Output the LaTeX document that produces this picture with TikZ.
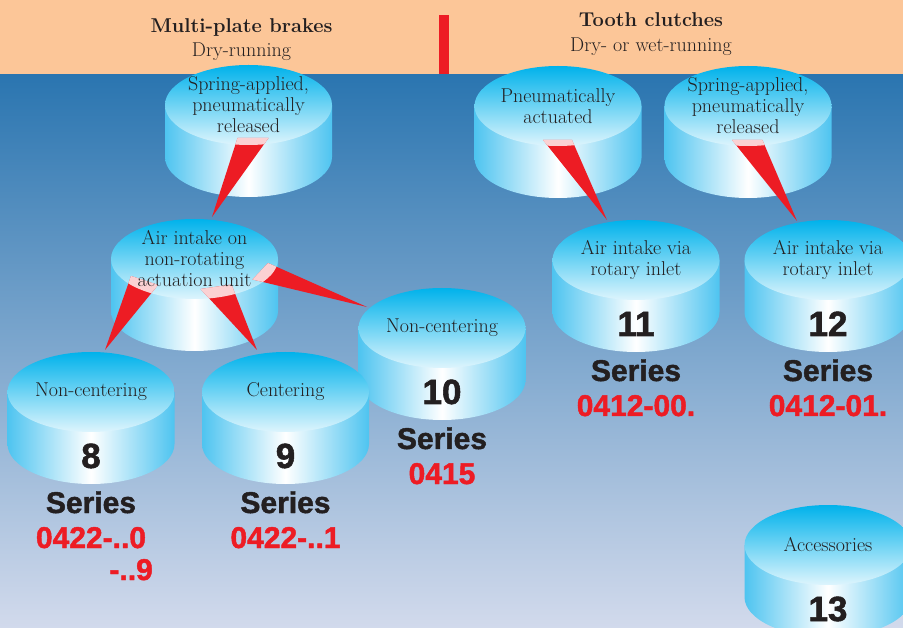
\documentclass[tikz,border=0pt]{standalone}
\usepackage{fontspec}
\usepackage{tikz}
\usetikzlibrary{calc}
\newfontfamily\heavyfont{Liberation Sans}[BoldFeatures={FakeBold=1.5}]
\definecolor{peach}{RGB}{252,198,152}
\definecolor{bgtop}{RGB}{42,117,176}
\definecolor{bgbottom}{RGB}{210,218,236}
\definecolor{cyltop}{RGB}{0,178,235}
\definecolor{cylmid}{RGB}{95,204,245}
\definecolor{cyllight}{RGB}{222,245,253}
\definecolor{cylside}{RGB}{78,196,240}
\definecolor{wedgered}{RGB}{237,28,36}
\definecolor{darktext}{RGB}{35,31,32}
\newcommand{\cylrx}{83.5}
\newcommand{\cylry}{40}
\newcommand{\cylh}{52}
% cylinder: name, x and y of the centre of its top face
\newcommand{\cylinder}[3]{%
  \coordinate (#1) at (#2,#3);
  \shade[left color=cylside, right color=cylside, middle color=white]
    (#2-\cylrx,#3) -- (#2-\cylrx,#3+\cylh)
    arc[start angle=180, end angle=0, x radius=\cylrx, y radius=\cylry]
    -- (#2+\cylrx,#3) -- cycle;
  \shade[top color=cyltop, middle color=cylmid, bottom color=cyllight]
    (#1) ellipse[x radius=\cylrx, y radius=\cylry];
}
% red pointer: source cylinder, two start offsets, tip
\newcommand{\redpointer}[4]{%
  \fill[pointer] ($(#1)+#2$) -- ($(#1)+#3$) -- #4 -- cycle;
  \begin{scope}
    \clip (#1) ellipse[x radius=\cylrx, y radius=\cylry];
    \fill[white, opacity=.8] ($(#1)+#2$) -- ($(#1)+#3$) -- #4 -- cycle;
  \end{scope}
}
\tikzset{
  pointer/.style={fill=wedgered},
  facetext/.style={align=center, text=darktext, inner sep=0pt,
    font=\fontsize{20}{21}\selectfont},
  numtext/.style={anchor=base, text=darktext, inner sep=0pt,
    font=\heavyfont\bfseries\fontsize{35}{35}\selectfont},
  seriestext/.style={anchor=base, text=darktext, inner sep=0pt,
    font=\heavyfont\bfseries\fontsize{30}{30}\selectfont},
  codetext/.style={anchor=base, text=wedgered, inner sep=0pt,
    font=\heavyfont\bfseries\fontsize{30}{30}\selectfont},
  headtext/.style={anchor=base, text=darktext, inner sep=0pt,
    font=\bfseries\fontsize{20}{22}\selectfont},
  subtext/.style={anchor=base, text=darktext, inner sep=0pt,
    font=\fontsize{20}{22}\selectfont}
}

\begin{document}
\begin{tikzpicture}[x=1pt, y=-1pt]
  \useasboundingbox (0,0) rectangle (903,628);
  \clip (0,0) rectangle (903,628);
  % Background:
  \shade[top color=bgtop, bottom color=bgbottom] (0,74) rectangle (903,628);
  \fill[peach] (0,0) rectangle (903,74);
  \fill[wedgered] (439,15) rectangle (449,74);
  % Headings:
  \node[headtext] (brakes) at (241.5,33) {Multi-plate brakes};
  \node[subtext] (dryrun) at (241.5,57) {Dry-running};
  \node[headtext] (clutches) at (651,27) {Tooth clutches};
  \node[subtext] (wetrun) at (651,52) {Dry- or wet-running};

  % Cylinders:
  \cylinder{springL}{248.5}{105}
  \cylinder{pneu}{558}{106}
  \cylinder{springR}{748}{106}
  \cylinder{airfix}{194.5}{259}
  \cylinder{rotA}{636}{260}
  \cylinder{rotB}{828}{260}
  \cylinder{noncenB}{442}{328}
  \cylinder{noncenA}{91}{392}
  \cylinder{center}{285.5}{392}
  \cylinder{access}{828}{545}

  % Pointers (red wedges):
  \redpointer{springL}{(-11,33)}{(20,33)}{($(airfix)+(17.5,-42)$)}
  \redpointer{airfix}{(-63.5,17)}{(-36.5,26)}{($(noncenA)+(14,-42)$)}
  \redpointer{airfix}{(6,30)}{(37,25.5)}{($(center)+(-28.5,-42)$)}
  \redpointer{airfix}{(58,20.5)}{(73.5,4)}{($(noncenB)+(-75,-21)$)}
  \redpointer{pneu}{(-15,34)}{(14,34)}{($(rotA)+(-29,-40)$)}
  \redpointer{springR}{(-16,34)}{(14.4,34)}{($(rotB)+(-31,-39)$)}

  % Texts on the top faces:
  \node[facetext] (tspringL) at (springL) {Spring-applied,\\pneumatically\\released};
  \node[facetext] (tpneu) at (pneu) {Pneumatically\\actuated};
  \node[facetext] (tspringR) at (springR) {Spring-applied,\\pneumatically\\released};
  \node[facetext] (tairfix) at (airfix) {Air intake on\\non-rotating\\actuation unit};
  \node[facetext] (trotA) at (rotA) {Air intake via\\rotary inlet};
  \node[facetext] (trotB) at (rotB) {Air intake via\\rotary inlet};
  \node[facetext] (tnoncenB) at (noncenB) {Non-centering};
  \node[facetext] (tnoncenA) at (noncenA) {Non-centering};
  \node[facetext] (tcenter) at (center) {Centering};
  \node[facetext] (taccess) at (access) {Accessories};

  % Numbers and series:
  \node[numtext] (n8) at ($(noncenA)+(0,76)$) {8};
  \node[seriestext] (s8) at ($(noncenA)+(0,121)$) {Series};
  \node[codetext] (c8) at ($(noncenA)+(0,156)$) {0422-..0};
  \node[codetext, anchor=base east] (c8b) at ($(noncenA)+(62,188)$) {-..9};
  \node[numtext] (n9) at ($(center)+(0,76)$) {9};
  \node[seriestext] (s9) at ($(center)+(0,121)$) {Series};
  \node[codetext] (c9) at ($(center)+(0,156)$) {0422-..1};
  \node[numtext] (n10) at ($(noncenB)+(0,76)$) {10};
  \node[seriestext] (s10) at ($(noncenB)+(0,121)$) {Series};
  \node[codetext] (c10) at ($(noncenB)+(0,156)$) {0415};
  \node[numtext] (n11) at ($(rotA)+(0,76)$) {11};
  \node[seriestext] (s11) at ($(rotA)+(0,121)$) {Series};
  \node[codetext] (c11) at ($(rotA)+(0,156)$) {0412-00.};
  \node[numtext] (n12) at ($(rotB)+(0,76)$) {12};
  \node[seriestext] (s12) at ($(rotB)+(0,121)$) {Series};
  \node[codetext] (c12) at ($(rotB)+(0,156)$) {0412-01.};
  \node[numtext] (n13) at ($(access)+(0,76)$) {13};
\end{tikzpicture}
\end{document}
